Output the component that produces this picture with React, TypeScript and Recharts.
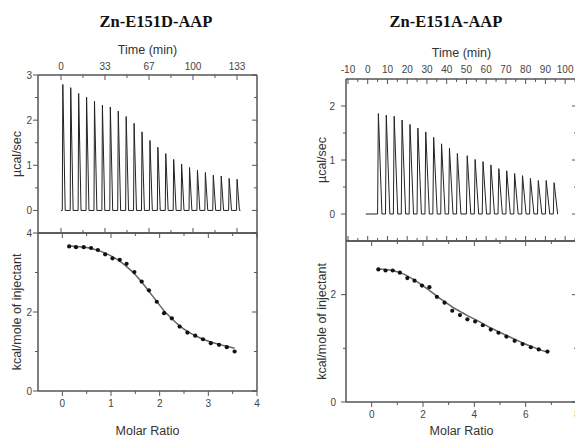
import React from "react";
import { ComposedChart, Line, LineChart, Scatter, XAxis, YAxis } from "recharts";

// Zn-E151D-AAP raw thermogram: injection times (min) and peak heights (µcal/sec)
const injTimeD = [1, 7, 13, 19, 25, 31, 37, 43, 49, 55, 61, 67, 73, 79, 85, 91, 97, 103, 109, 115, 121, 127, 133];
const peakD = [2.79, 2.72, 2.59, 2.51, 2.42, 2.33, 2.29, 2.2, 2.08, 1.93, 1.74, 1.55, 1.4, 1.26, 1.13, 1.03, 0.95, 0.89, 0.84, 0.78, 0.76, 0.71, 0.69];

// Zn-E151A-AAP raw thermogram
const injTimeA = [5, 9, 13, 17, 21, 25, 29, 33, 37, 41, 45, 50, 54, 58, 62, 66, 70, 74, 78, 82, 86, 90, 94];
const peakA = [1.86, 1.83, 1.81, 1.74, 1.66, 1.59, 1.52, 1.42, 1.3, 1.22, 1.12, 1.08, 1.01, 0.97, 0.91, 0.84, 0.8, 0.75, 0.71, 0.66, 0.62, 0.62, 0.58];

// integrated heats (kcal/mole of injectant) vs molar ratio, with fitted curve
const ratioD = [0.14, 0.28, 0.44, 0.59, 0.73, 0.88, 1.03, 1.18, 1.32, 1.48, 1.63, 1.78, 1.94, 2.09, 2.25, 2.41, 2.57, 2.73, 2.89, 3.05, 3.22, 3.38, 3.54];
const heatD = [3.66, 3.64, 3.64, 3.62, 3.57, 3.46, 3.36, 3.32, 3.22, 3.01, 2.77, 2.55, 2.26, 1.97, 1.84, 1.63, 1.48, 1.4, 1.31, 1.21, 1.17, 1.11, 1.0];
const fitD = [3.67, 3.66, 3.64, 3.61, 3.56, 3.49, 3.4, 3.29, 3.15, 2.97, 2.76, 2.52, 2.27, 2.03, 1.83, 1.65, 1.51, 1.4, 1.31, 1.24, 1.18, 1.13, 1.08];

const ratioA = [0.26, 0.54, 0.82, 1.1, 1.39, 1.67, 1.96, 2.25, 2.54, 2.84, 3.14, 3.44, 3.73, 4.03, 4.33, 4.64, 4.94, 5.25, 5.57, 5.88, 6.2, 6.51, 6.85];
const heatA = [2.47, 2.45, 2.45, 2.41, 2.31, 2.26, 2.17, 2.14, 1.96, 1.85, 1.7, 1.62, 1.54, 1.5, 1.43, 1.35, 1.29, 1.22, 1.14, 1.08, 1.02, 0.98, 0.94];
const fitA = [2.48, 2.47, 2.45, 2.41, 2.35, 2.27, 2.18, 2.08, 1.97, 1.87, 1.77, 1.69, 1.61, 1.54, 1.46, 1.38, 1.31, 1.24, 1.17, 1.1, 1.04, 0.98, 0.93];

// ticks
const timeMajorD = [0, 33.33, 66.67, 100, 133.33];
const timeLabelD = ["0", "33", "67", "100", "133"];
const timeMinorD = [16.67, 50, 83.33, 116.67];
const timeMajorA = [-10, 0, 10, 20, 30, 40, 50, 60, 70, 80, 90, 100];
const timeMinorA = [-5, 5, 15, 25, 35, 45, 55, 65, 75, 85, 95, 105];
const ratioMajorD = [0, 1, 2, 3, 4];
const ratioMinorD = [0.5, 1.5, 2.5, 3.5];
const ratioMajorA = [0, 2, 4, 6, 8];
const ratioMinorA = [1, 3, 5, 7];
const rawMajorD = [0, 1, 2, 3];
const rawMinorD = [0.5, 1.5, 2.5];
const rawMajorA = [0, 1, 2];
const rawMinorA = [0.5, 1.5];
const heatMajorD = [0, 2, 4];
const heatMinorD = [1, 3];
const heatMajorA = [0, 2];
const heatMinorA = [1];

const titles = ["Zn-E151D-AAP", "Zn-E151A-AAP"];

const FONT = "'Liberation Sans', Arial, sans-serif";
const AXIS = { stroke: "#555", strokeWidth: 1.5 };
const TITLE = { fontSize: 12.5, fill: "#333", fontFamily: FONT };

function trace(times: number[], peaks: number[], start: number, end: number) {
  const pts = [{ x: start, y: 0 }];
  times.forEach((t, i) => {
    pts.push({ x: t, y: 0 }, { x: t + 0.4, y: peaks[i] }, { x: t + 2.2, y: 0 });
  });
  pts.push({ x: end, y: 0 });
  return pts;
}

const traceD = trace(injTimeD, peakD, 0, 136);
const traceA = trace(injTimeA, peakA, -1, 96);
const ptsD = ratioD.map((x, i) => ({ x, y: heatD[i] }));
const ptsA = ratioA.map((x, i) => ({ x, y: heatA[i] }));
const curveD = ratioD.map((x, i) => ({ x, y: fitD[i] }));
const curveA = ratioA.map((x, i) => ({ x, y: fitA[i] }));

type Side = "top" | "bottom" | "left" | "right";

// tick drawn by hand: major/minor length, inward or outward, optional label
function makeTick(side: Side, gap: number, majors: number[], labels: string[] | null, inward: boolean) {
  return (p: any) => {
    const v = p.payload.value;
    const i = majors.findIndex((m) => Math.abs(m - v) < 1e-6);
    const len = i >= 0 ? 5 : 3;
    const d = inward ? 1 : -1;
    const txt = labels && i >= 0 ? labels[i] : null;
    let line;
    let text = null;
    if (side === "top") {
      const a = p.y + gap;
      line = <line x1={p.x} x2={p.x} y1={a} y2={a + d * len} />;
      if (txt) text = <text x={p.x} y={p.y} dy="0.35em" textAnchor="middle">{txt}</text>;
    } else if (side === "bottom") {
      const a = p.y - gap;
      line = <line x1={p.x} x2={p.x} y1={a} y2={a - d * len} />;
      if (txt) text = <text x={p.x} y={p.y} dy="0.35em" textAnchor="middle">{txt}</text>;
    } else if (side === "left") {
      const a = p.x + gap;
      line = <line x1={a} x2={a + d * len} y1={p.y} y2={p.y} />;
      if (txt) text = <text x={p.x} y={p.y} dy="0.35em" textAnchor="end">{txt}</text>;
    } else {
      const a = p.x - gap;
      line = <line x1={a} x2={a - d * len} y1={p.y} y2={p.y} />;
    }
    return (
      <g>
        <g stroke="#555" strokeWidth={1}>{line}</g>
        {text && <g fontFamily={FONT} fontSize={10} fill="#444">{text}</g>}
      </g>
    );
  };
}

const common = {
  type: "number" as const,
  allowDataOverflow: true,
  axisLine: AXIS,
  tickLine: false,
  tickSize: 0,
  interval: 0 as const,
};

const dot = (p: any) => <circle cx={p.cx} cy={p.cy} r={2.1} fill="#111" />;

export default function App() {
  return (
    <div style={{ position: "absolute", left: 0, top: 0, width: 575, height: 437, overflow: "hidden", background: "#fff" }}>
      {/* Zn-E151D raw heat */}
      <div style={{ position: "absolute", left: 0, top: 0 }}>
        <LineChart width={290} height={240} data={traceD} margin={{ top: 55, right: 23, bottom: 2, left: 0 }}>
          <XAxis {...common} xAxisId="b" dataKey="x" orientation="bottom" domain={[-17.4, 148.5]} height={5}
            ticks={[...timeMajorD, ...timeMinorD]} tickMargin={0} tick={makeTick("bottom", 0, timeMajorD, null, true)} />
          <XAxis {...common} xAxisId="t" dataKey="x" orientation="top" domain={[-17.4, 148.5]} height={20}
            ticks={[...timeMajorD, ...timeMinorD]} tickMargin={9} tick={makeTick("top", 9, timeMajorD, timeLabelD, true)}
            label={{ value: "Time (min)", position: "top", offset: 1, ...TITLE }} />
          <YAxis {...common} yAxisId="l" dataKey="y" domain={[-0.5, 3]} width={38}
            ticks={[...rawMajorD, ...rawMinorD]} tickMargin={6} tick={makeTick("left", 6, rawMajorD, rawMajorD.map(String), false)}
            label={{ value: "µcal/sec", angle: -90, position: "insideLeft", offset: 17, style: { textAnchor: "middle" }, ...TITLE }} />
          <YAxis {...common} yAxisId="r" dataKey="y" orientation="right" domain={[-0.5, 3]} width={10}
            ticks={[...rawMajorD, ...rawMinorD]} tickMargin={0} tick={makeTick("right", 0, rawMajorD, null, true)} />
          <Line xAxisId="b" yAxisId="l" dataKey="y" type="linear" stroke="#222" strokeWidth={1} dot={false} isAnimationActive={false} />
        </LineChart>
      </div>

      {/* Zn-E151D binding isotherm */}
      <div style={{ position: "absolute", left: 0, top: 220 }}>
        <ComposedChart width={290} height={217} margin={{ top: 8, right: 23, bottom: 1, left: 0 }}>
          <XAxis {...common} xAxisId="t" dataKey="x" orientation="top" domain={[-0.5, 4]} height={5}
            ticks={[...ratioMajorD, ...ratioMinorD]} tickMargin={0} tick={makeTick("top", 0, ratioMajorD, null, true)} />
          <XAxis {...common} xAxisId="b" dataKey="x" orientation="bottom" domain={[-0.5, 4]} height={45}
            ticks={[...ratioMajorD, ...ratioMinorD]} tickMargin={12} tick={makeTick("bottom", 12, ratioMajorD, ratioMajorD.map(String), false)}
            label={{ value: "Molar Ratio", position: "insideBottom", offset: 1, ...TITLE }} />
          <YAxis {...common} yAxisId="l" dataKey="y" domain={[0, 4]} width={38}
            ticks={[...heatMajorD, ...heatMinorD]} tickMargin={6} tick={makeTick("left", 6, heatMajorD, heatMajorD.map(String), false)}
            label={{ value: "kcal/mole of injectant", angle: -90, position: "insideLeft", offset: 17, style: { textAnchor: "middle" }, ...TITLE }} />
          <YAxis {...common} yAxisId="r" dataKey="y" orientation="right" domain={[0, 4]} width={10}
            ticks={[...heatMajorD, ...heatMinorD]} tickMargin={0} tick={makeTick("right", 0, heatMajorD, null, true)} />
          <Line xAxisId="b" yAxisId="l" data={curveD} dataKey="y" type="monotone" stroke="#666" strokeWidth={1.5} dot={false} isAnimationActive={false} />
          <Scatter xAxisId="b" yAxisId="l" data={ptsD} dataKey="y" shape={dot} isAnimationActive={false} />
        </ComposedChart>
      </div>

      {/* Zn-E151A raw heat */}
      <div style={{ position: "absolute", left: 285, top: 0 }}>
        <LineChart width={300} height={245} data={traceA} margin={{ top: 59, right: 3, bottom: 0, left: 0 }}>
          <XAxis {...common} xAxisId="b" dataKey="x" orientation="bottom" domain={[-11, 106]} height={4}
            ticks={[...timeMajorA, ...timeMinorA]} tickMargin={0} tick={makeTick("bottom", 0, timeMajorA, null, true)} />
          <XAxis {...common} xAxisId="t" dataKey="x" orientation="top" domain={[-11, 106]} height={20}
            ticks={[...timeMajorA, ...timeMinorA]} tickMargin={10} tick={makeTick("top", 10, timeMajorA, timeMajorA.map(String), true)}
            label={{ value: "Time (min)", position: "top", offset: 2.5, ...TITLE }} />
          <YAxis {...common} yAxisId="l" dataKey="y" domain={[-0.5, 2.5]} width={61}
            ticks={[...rawMajorA, ...rawMinorA]} tickMargin={11} tick={makeTick("left", 11, rawMajorA, rawMajorA.map(String), false)}
            label={{ value: "µcal/sec", angle: -90, position: "insideLeft", offset: 37, style: { textAnchor: "middle" }, ...TITLE }} />
          <YAxis {...common} yAxisId="r" dataKey="y" orientation="right" domain={[-0.5, 2.5]} width={5}
            ticks={[...rawMajorA, ...rawMinorA]} tickMargin={0} tick={makeTick("right", 0, rawMajorA, null, true)} />
          <Line xAxisId="b" yAxisId="l" dataKey="y" type="linear" stroke="#222" strokeWidth={1} dot={false} isAnimationActive={false} />
        </LineChart>
      </div>

      {/* Zn-E151A binding isotherm */}
      <div style={{ position: "absolute", left: 285, top: 220 }}>
        <ComposedChart width={300} height={217} margin={{ top: 16, right: 3, bottom: 1, left: 0 }}>
          <XAxis {...common} xAxisId="t" dataKey="x" orientation="top" domain={[-1, 8]} height={5}
            ticks={[...ratioMajorA, ...ratioMinorA]} tickMargin={0} tick={makeTick("top", 0, ratioMajorA, null, true)} />
          <XAxis {...common} xAxisId="b" dataKey="x" orientation="bottom" domain={[-1, 8]} height={34}
            ticks={[...ratioMajorA, ...ratioMinorA]} tickMargin={12} tick={makeTick("bottom", 12, ratioMajorA, ratioMajorA.map(String), false)}
            label={{ value: "Molar Ratio", position: "insideBottom", offset: 1, ...TITLE }} />
          <YAxis {...common} yAxisId="l" dataKey="y" domain={[0, 3]} width={61}
            ticks={[...heatMajorA, ...heatMinorA]} tickMargin={10} tick={makeTick("left", 10, heatMajorA, heatMajorA.map(String), false)}
            label={{ value: "kcal/mole of injectant", angle: -90, position: "insideLeft", offset: 37, style: { textAnchor: "middle" }, ...TITLE }} />
          <YAxis {...common} yAxisId="r" dataKey="y" orientation="right" domain={[0, 3]} width={5}
            ticks={[...heatMajorA, ...heatMinorA]} tickMargin={0} tick={makeTick("right", 0, heatMajorA, null, true)} />
          <Line xAxisId="b" yAxisId="l" data={curveA} dataKey="y" type="monotone" stroke="#666" strokeWidth={1.5} dot={false} isAnimationActive={false} />
          <Scatter xAxisId="b" yAxisId="l" data={ptsA} dataKey="y" shape={dot} isAnimationActive={false} />
        </ComposedChart>
      </div>

      {titles.map((t, i) => (
        <div key={t} style={{ position: "absolute", left: [156, 446][i] - 100, top: 12, width: 200, textAlign: "center",
          fontFamily: "'Liberation Serif', 'Times New Roman', serif", fontWeight: "bold", fontSize: 16.5, lineHeight: "20px", color: "#111" }}>
          {t}
        </div>
      ))}
    </div>
  );
}
